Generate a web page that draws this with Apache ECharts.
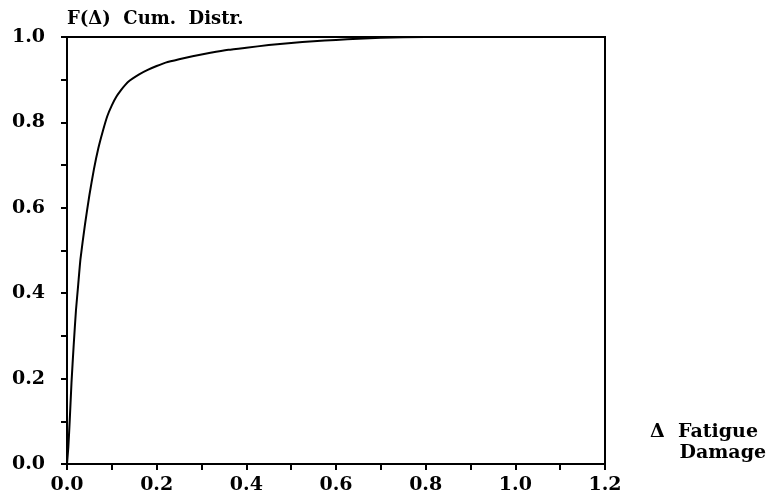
<!DOCTYPE html>
<html>
<head>
<meta charset="utf-8">
<script src="https://cdn.jsdelivr.net/npm/echarts@6/dist/echarts.min.js"></script>
<style>
  html, body { margin: 0; padding: 0; background: #fff; }
  #main { width: 772px; height: 502px; }
</style>
</head>
<body>
<div id="main"></div>
<script>
// fatigue damage values (x) and cumulative distribution F (y)
var damage = [0, 0.003, 0.006, 0.01, 0.015, 0.02, 0.025, 0.03, 0.04, 0.05, 0.06, 0.07, 0.08, 0.09, 0.1, 0.11, 0.12, 0.13, 0.14, 0.16, 0.18, 0.2, 0.22, 0.25, 0.28, 0.32, 0.36, 0.4, 0.45, 0.5, 0.55, 0.6, 0.65, 0.7, 0.8, 1.2];
var cumDistr = [0, 0.04, 0.1, 0.19, 0.28, 0.36, 0.42, 0.48, 0.56, 0.63, 0.69, 0.74, 0.78, 0.815, 0.84, 0.86, 0.875, 0.888, 0.898, 0.912, 0.923, 0.932, 0.94, 0.948, 0.955, 0.963, 0.97, 0.975, 0.981, 0.986, 0.99, 0.993, 0.996, 0.998, 1.0, 1.0];
var xTicks = [0, 0.2, 0.4, 0.6, 0.8, 1.0, 1.2];
var yTicks = [0, 0.2, 0.4, 0.6, 0.8, 1.0];

var points = damage.map(function (d, i) { return [d, cumDistr[i]]; });
var font = 'DejaVu Serif';

var option = {
  animation: false,
  grid: {
    left: 67, right: 167, top: 37, bottom: 38,
    show: true, borderColor: '#000', borderWidth: 2, backgroundColor: 'transparent'
  },
  title: {
    text: 'F(Δ)  Cum.  Distr.',
    left: 62, top: 5,
    textStyle: { fontFamily: font, fontSize: 18, fontWeight: 'bold', color: '#000' }
  },
  graphic: [{
    type: 'text', right: 14, top: 423,
    style: { text: 'Δ  Fatigue', font: 'bold 19px "DejaVu Serif"', fill: '#000' }
  }, {
    type: 'text', right: 6, top: 444,
    style: { text: 'Damage', font: 'bold 19px "DejaVu Serif"', fill: '#000' }
  }],
  xAxis: {
    type: 'value', min: 0, max: 1.2, interval: 0.2,
    splitLine: { show: false },
    axisLine: { lineStyle: { color: '#000', width: 2 } },
    axisTick: { length: 6, lineStyle: { color: '#000', width: 2 } },
    minorTick: { show: true, splitNumber: 2, length: 6, lineStyle: { color: '#000', width: 2 } },
    axisLabel: {
      margin: 12, color: '#000', fontFamily: font, fontSize: 19, fontWeight: 'bold',
      formatter: function (v) { return xTicks.indexOf(+v.toFixed(1)) >= 0 ? v.toFixed(1) : ''; }
    }
  },
  yAxis: {
    type: 'value', min: 0, max: 1, interval: 0.2,
    splitLine: { show: false },
    axisLine: { lineStyle: { color: '#000', width: 2 } },
    axisTick: { length: 6, lineStyle: { color: '#000', width: 2 } },
    minorTick: { show: true, splitNumber: 2, length: 6, lineStyle: { color: '#000', width: 2 } },
    axisLabel: {
      margin: 22, color: '#000', fontFamily: font, fontSize: 19, fontWeight: 'bold',
      formatter: function (v) { return yTicks.indexOf(+v.toFixed(1)) >= 0 ? v.toFixed(1) : ''; }
    }
  },
  series: [{
    type: 'line',
    data: points,
    showSymbol: false,
    smooth: 0.15,
    lineStyle: { color: '#000', width: 2 }
  }]
};

var chart = echarts.init(document.getElementById('main'));
chart.setOption(option);
</script>
</body>
</html>
